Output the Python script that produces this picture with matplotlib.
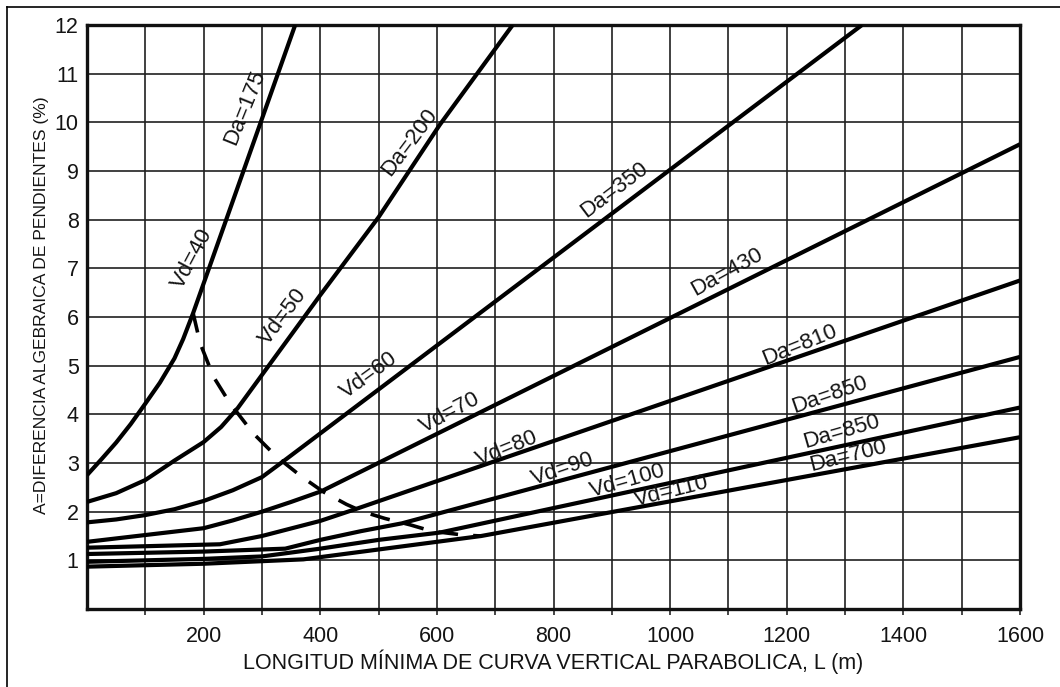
"""
Minimum length of a parabolic crest vertical curve vs. algebraic grade
difference (A), one curve per design speed Vd / sight distance Da.
"""

import matplotlib
matplotlib.use("Agg")
import matplotlib.pyplot as plt
from matplotlib.lines import Line2D

plt.rcParams["font.family"] = ["Liberation Sans", "DejaVu Sans"]

# ---- data: L (m) and A (%) ------------------------------------------------
L_VD40 = [0, 25, 50, 75, 100, 125, 150, 165, 182, 357]
A_VD40 = [2.75, 3.08, 3.42, 3.80, 4.22, 4.65, 5.15, 5.55, 6.08, 12.0]

L_VD50 = [0, 50, 100, 150, 200, 230, 258, 400, 500, 605, 730]
A_VD50 = [2.2, 2.38, 2.65, 3.05, 3.43, 3.74, 4.12, 6.45, 8.05, 9.95, 12.0]

L_VD60 = [0, 50, 100, 150, 200, 250, 300, 335, 1329]
A_VD60 = [1.78, 1.84, 1.93, 2.05, 2.22, 2.44, 2.71, 3.02, 12.0]

L_VD70 = [0, 100, 200, 250, 300, 350, 402, 1600]
A_VD70 = [1.38, 1.52, 1.66, 1.82, 2.0, 2.2, 2.42, 9.55]

L_VD80 = [0, 100, 228, 300, 400, 460, 1600]
A_VD80 = [1.26, 1.29, 1.33, 1.5, 1.81, 2.05, 6.75]

L_VD90 = [0, 200, 340, 400, 470, 540, 1600]
A_VD90 = [1.13, 1.18, 1.24, 1.42, 1.6, 1.76, 5.18]

L_VD100 = [0, 200, 300, 400, 500, 605, 1600]
A_VD100 = [0.97, 1.03, 1.08, 1.24, 1.42, 1.57, 4.14]

L_VD110 = [0, 200, 371, 676, 1600]
A_VD110 = [0.87, 0.93, 1.02, 1.50, 3.53]

# dashed boundary through the points where each curve turns straight
L_LIMIT = [182, 194, 217, 245, 285, 325, 368, 405, 445, 473, 511, 554, 591, 645, 676]
A_LIMIT = [6.08, 5.46, 4.77, 4.23, 3.61, 3.13, 2.72, 2.41, 2.15, 2.0, 1.86, 1.73, 1.6, 1.52, 1.50]

VD_LABELS = ["Vd=40", "Vd=50", "Vd=60", "Vd=70", "Vd=80", "Vd=90", "Vd=100", "Vd=110"]
DA_LABELS = ["Da=175", "Da=200", "Da=350", "Da=430", "Da=810", "Da=850", "Da=850", "Da=700"]

X_TICKS = [200, 400, 600, 800, 1000, 1200, 1400, 1600]
Y_TICKS = [1, 2, 3, 4, 5, 6, 7, 8, 9, 10, 11, 12]

X_LABEL = "LONGITUD MÍNIMA DE CURVA VERTICAL PARABOLICA, L (m)"
Y_LABEL = "A=DIFERENCIA ALGEBRAICA DE PENDIENTES (%)"

INK = "#141414"

if __name__ == "__main__":
    W, H = 1060, 687
    fig = plt.figure(figsize=(W / 100, H / 100), dpi=100)
    fig.patch.set_facecolor("white")

    # axes box in pixels: left 87, right 1020, top 25, bottom 609
    ax = fig.add_axes([87 / W, 1 - 609 / H, 933 / W, 584 / H])
    ax.set_xlim(0, 1600)
    ax.set_ylim(0, 12)

    ax.set_xticks(X_TICKS)
    ax.set_xticks(range(100, 1600, 100), minor=True)
    ax.set_yticks(Y_TICKS)
    ax.set_xticklabels([str(v) for v in X_TICKS])
    ax.set_yticklabels([str(v) for v in Y_TICKS])
    ax.tick_params(axis="x", which="both", direction="out", length=4, width=1.1,
                   color=INK, labelsize=15.5, labelcolor=INK, pad=8)
    ax.tick_params(axis="y", which="both", length=0, labelsize=15.5,
                   labelcolor=INK, pad=6)

    ax.grid(True, which="both", color="#202020", linewidth=1.2)
    ax.set_axisbelow(True)
    for sp in ax.spines.values():
        sp.set_linewidth(2.4)
        sp.set_color("#111111")

    curves = [
        (L_VD40, A_VD40), (L_VD50, A_VD50), (L_VD60, A_VD60), (L_VD70, A_VD70),
        (L_VD80, A_VD80), (L_VD90, A_VD90), (L_VD100, A_VD100), (L_VD110, A_VD110),
    ]
    for xs, ys in curves:
        ax.plot(xs, ys, color="black", linewidth=3.0, solid_joinstyle="round",
                solid_capstyle="butt", zorder=3)

    ax.plot(L_LIMIT, A_LIMIT, color="black", linewidth=2.6,
            linestyle=(0, (5.5, 4.2)), zorder=3)

    # label placement (data coords) and rotation (screen degrees)
    vd_pos = [(180, 7.2, 62), (336, 6.0, 53), (484, 4.8, 36), (622, 4.02, 28),
              (720, 3.3, 22), (816, 2.88, 19), (927, 2.62, 16), (1003, 2.41, 14)]
    da_pos = [(270, 10.3, 68), (553, 9.6, 53), (905, 8.62, 37), (1097, 6.92, 29),
              (1222, 5.42, 22), (1273, 4.4, 19), (1294, 3.63, 16), (1305, 3.14, 14)]
    for text, (x, y, rot) in zip(VD_LABELS, vd_pos):
        ax.text(x, y, text, rotation=rot, rotation_mode="anchor", ha="center",
                va="center", fontsize=16, color=INK, zorder=4)
    for text, (x, y, rot) in zip(DA_LABELS, da_pos):
        ax.text(x, y, text, rotation=rot, rotation_mode="anchor", ha="center",
                va="center", fontsize=16, color=INK, zorder=4)

    ax.set_xlabel(X_LABEL, fontsize=15.5, color=INK, va="center")
    ax.xaxis.set_label_coords(0.5, -0.091)
    ax.set_ylabel(Y_LABEL, fontsize=12.6, color=INK, va="center")
    ax.yaxis.set_label_coords(-0.049, 0.52)

    # page frame around the figure (top and left edges visible)
    fig.add_artist(Line2D([7 / W, 1.0], [1 - 7 / H, 1 - 7 / H], color="black", linewidth=1.2))
    fig.add_artist(Line2D([7 / W, 7 / W], [0.0, 1 - 7 / H], color="black", linewidth=1.2))

    fig.savefig("out.png", dpi=100)
